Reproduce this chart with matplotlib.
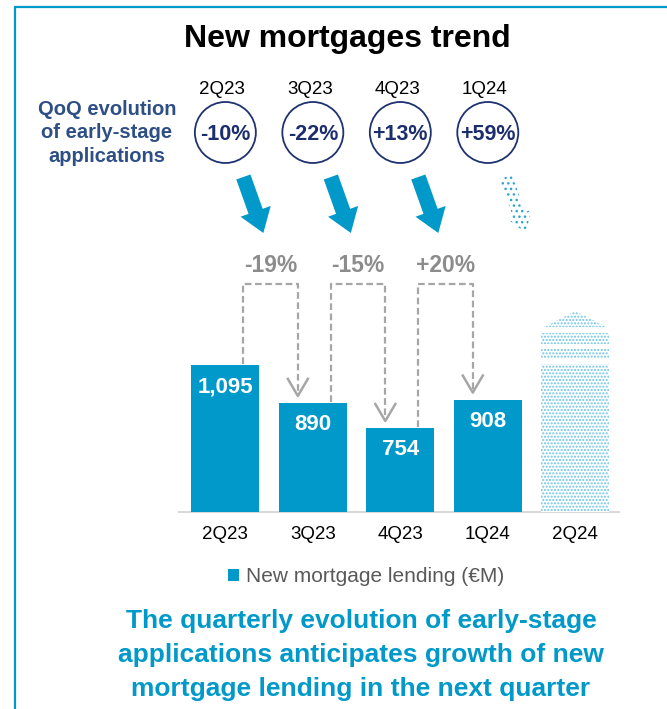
import numpy as np
import matplotlib
matplotlib.use('Agg')
import matplotlib.pyplot as plt
from matplotlib.patches import Circle, FancyArrow, Polygon

plt.rcParams['font.family'] = ['Liberation Sans', 'DejaVu Sans']
plt.rcParams['hatch.linewidth'] = 1.0

quarters = ['2Q23', '3Q23', '4Q23', '1Q24', '2Q24']
lending = [1095, 890, 754, 908]          # new mortgage lending, EUR M
lending_2q24 = 1100                      # expected quarter, not reported yet
qoq_applications = [-10, -22, 13, 59]    # QoQ change of early-stage applications, %

blue = '#0099c9'
light_blue = '#6cc5e8'
navy = '#1f3270'
grey = '#a6a6a6'

W, H = 667, 709
fig = plt.figure(figsize=(W / 100, H / 100), dpi=100)


def box(x0, y0, x1, y1):
    # pixel box (top-left origin) -> figure fraction rect
    return [x0 / W, 1 - y1 / H, (x1 - x0) / W, (y1 - y0) / H]


# ---- bar panel ----
ax = fig.add_axes(box(179, 240, 619, 511.5))
x = np.arange(len(quarters))
bw = 0.78
bars = ax.bar(x[:4], lending, width=bw, color=blue, zorder=3,
              label='New mortgage lending (€M)')

# expected quarter: dotted bar with a stacked "arrow" top
ax.bar(x[4], lending_2q24, width=bw, facecolor='white', edgecolor=light_blue,
       hatch='.....', linewidth=0, zorder=3)
level = lending_2q24
for gap, hgt in [(27, 55), (27, 59)]:
    ax.bar(x[4], hgt, bottom=level + gap, width=bw, facecolor='white',
           edgecolor=light_blue, hatch='.....', linewidth=0, zorder=3)
    level += gap + hgt
roof = level + 32
ax.add_patch(Polygon([(x[4] - 0.36, roof), (x[4], roof + 87), (x[4] + 0.36, roof)],
                     closed=True, facecolor='white', edgecolor=light_blue,
                     hatch='.....', linewidth=0, zorder=3))

ax.set_xlim(-0.53, 4.5)
ax.set_ylim(302, 1772)
ax.set_xticks(x, quarters)
ax.set_yticks([])
ax.tick_params(axis='x', length=0, pad=10.5, labelsize=13.5, labelcolor='black')
for s in ['top', 'right', 'left']:
    ax.spines[s].set_visible(False)
ax.spines['bottom'].set_color('#d9d9d9')
ax.spines['bottom'].set_linewidth(1.5)
ax.patch.set_visible(False)

for i, v in enumerate(lending):
    ax.annotate(f'{v:,}', (x[i], v), xytext=(0, -19.5), textcoords='offset points',
                ha='center', va='baseline', color='white', fontsize=16,
                fontweight='bold', zorder=4)

# ---- overlay in pixel coordinates ----
ov = fig.add_axes([0, 0, 1, 1])
ov.set_xlim(0, W)
ov.set_ylim(H, 0)
ov.axis('off')


def to_px(xv, yv):
    dx, dy = ax.transData.transform((xv, yv))
    return dx, H - dy


# frame lines
ov.plot([14, W], [7, 7], color=blue, lw=1.6, solid_capstyle='butt')
ov.plot([15, 15], [7, H], color=blue, lw=1.6, solid_capstyle='butt')

ov.text(347, 47, 'New mortgages trend', ha='center', va='baseline',
        fontsize=23, fontweight='bold', color='black')

ov.text(107, 133, 'QoQ evolution\nof early-stage\napplications', ha='center',
        va='center', fontsize=14.5, fontweight='bold', color='#2e4f86',
        linespacing=1.32)

for i, q in enumerate(qoq_applications):
    cx = to_px(x[i], 0)[0]
    ov.text(cx - 3, 94, quarters[i], ha='center', va='baseline', fontsize=13.5)
    ov.add_patch(Circle((cx, 132.5), 30.5, facecolor='white', edgecolor=navy, lw=1.3))
    ov.text(cx, 140.5, f'{q:+d}%', ha='center', va='baseline', fontsize=15.5,
            fontweight='bold', color='#1c2e6e')
    # arrow towards next quarter's lending
    if i + 1 < len(lending):
        ov.add_patch(FancyArrow(cx + 18, 177, 20, 56, width=15, head_width=32,
                                head_length=23, length_includes_head=True,
                                color=blue, lw=0))
    else:
        ov.add_patch(FancyArrow(cx + 18, 177, 20, 56, width=13, head_width=26,
                                head_length=20, length_includes_head=True,
                                facecolor='white', edgecolor='#2aa3d6',
                                hatch='...', lw=0))

# dashed connectors between consecutive quarters
for i in range(len(lending) - 1):
    x0, y0 = to_px(x[i], lending[i])
    x1, y1 = to_px(x[i + 1], lending[i + 1])
    x0 += 18
    x1 -= 15
    tip = y1 - 7
    ov.plot([x0, x0, x1, x1], [y0 - 1, 284, 284, tip], color=grey, lw=1.6,
            dashes=(3, 1.6))
    ov.plot([x1 - 10, x1, x1 + 10], [tip - 17, tip, tip - 17], color=grey, lw=1.8)
    pct = round((lending[i + 1] / lending[i] - 1) * 100)
    ov.text((x0 + x1) / 2, 272, f'{pct:+d}%', ha='center', va='baseline',
            fontsize=16.5, fontweight='bold', color='#8c8c8c')

fig.legend(handles=[bars], loc='center', bbox_to_anchor=(366 / W, 1 - 577 / H),
           frameon=False, fontsize=15, handlelength=0.55, handleheight=0.55,
           handletextpad=0.35, labelcolor='#595959')

for y, line in zip([628, 662, 696], ['The quarterly evolution of early-stage',
                                     'applications anticipates growth of new',
                                     'mortgage lending in the next quarter']):
    ov.text(361, y, line, ha='center', va='baseline', fontsize=19,
            fontweight='bold', color=blue)

fig.savefig('out.png', dpi=100)
